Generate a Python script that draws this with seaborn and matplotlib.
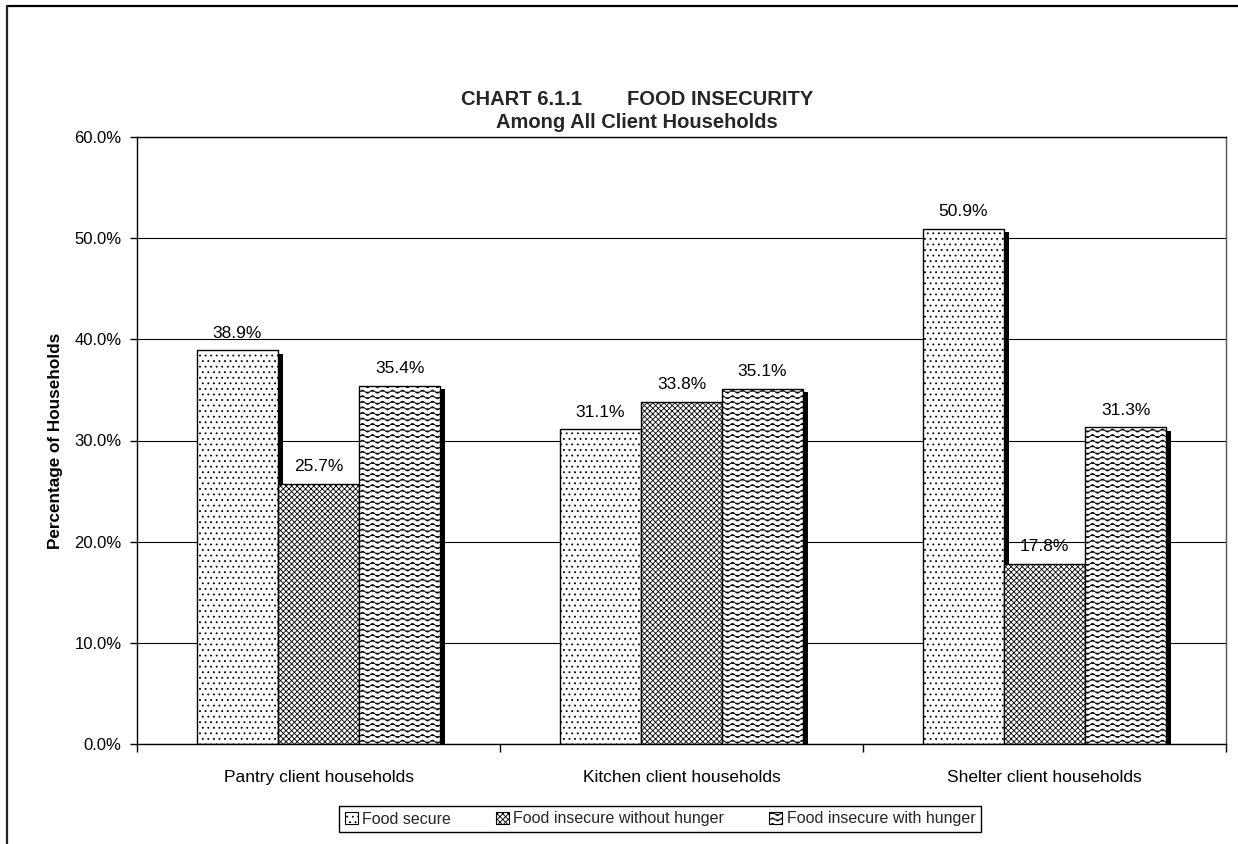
import warnings
import numpy as np
import pandas as pd
import matplotlib
matplotlib.use("Agg")
import matplotlib.pyplot as plt
import matplotlib.patches as mpatches
import matplotlib.patheffects as pe
from matplotlib import hatch as mhatch
from matplotlib.lines import Line2D
from matplotlib.path import Path
import seaborn as sns

warnings.filterwarnings("ignore", message=".*hatch must consist.*")

# ---- data -------------------------------------------------------------
groups = ["Pantry client households", "Kitchen client households",
          "Shelter client households"]
statuses = ["Food secure", "Food insecure without hunger",
            "Food insecure with hunger"]
food_secure = [38.9, 31.1, 50.9]
insecure_without_hunger = [25.7, 33.8, 17.8]
insecure_with_hunger = [35.4, 35.1, 31.3]
y_ticks = [0, 10, 20, 30, 40, 50, 60]

series = [food_secure, insecure_without_hunger, insecure_with_hunger]
hatches = ["...", "xxxxxx", "~"]


# ---- wavy hatch pattern, selected with '~' ----------------------------
class WaveHatch(mhatch.HatchPatternBase):
    def __init__(self, hatch, density):
        n = hatch.count("~")
        self.num_rows = int(n * density * 3)
        self.periods = 10
        self.samples = 8 * self.periods + 1
        self.num_vertices = self.num_rows * self.samples

    def set_vertices_and_codes(self, vertices, codes):
        t = np.linspace(0.0, 1.0, self.samples)
        step = 1.0 / self.num_rows
        amp = 0.28 * step
        for r in range(self.num_rows):
            s = slice(r * self.samples, (r + 1) * self.samples)
            vertices[s, 0] = t
            vertices[s, 1] = (r + 0.5) * step + amp * np.sin(2 * np.pi * self.periods * t)
            codes[s] = Path.LINETO
            codes[r * self.samples] = Path.MOVETO


mhatch._hatch_types.append(WaveHatch)

# ---- style ------------------------------------------------------------
sns.set_theme(style="white")
plt.rcParams["font.family"] = ["Liberation Sans", "DejaVu Sans"]
plt.rcParams["hatch.linewidth"] = 0.6
plt.rcParams["hatch.color"] = "black"

df = pd.DataFrame({
    "group": np.repeat(groups, len(statuses)),
    "status": statuses * len(groups),
    "pct": np.array(series).T.ravel(),
})

fig = plt.figure(figsize=(12.38, 8.44), dpi=100)
ax = fig.add_axes([137 / 1238, 1 - 744 / 844, (1226 - 137) / 1238, (744 - 137) / 844])

sns.barplot(data=df, x="group", y="pct", hue="status", order=groups,
            hue_order=statuses, palette=["white"] * 3, saturation=1,
            edgecolor="black", linewidth=1, width=0.67, errorbar=None,
            legend=False, ax=ax)

shadow = [pe.SimplePatchShadow(offset=(3.8, -2.3), shadow_rgbFace="black", alpha=1.0),
          pe.Normal()]
for cont, h, vals in zip(ax.containers, hatches, series):
    for bar in cont:
        bar.set_hatch(h)
        bar.set_edgecolor("black")
        bar.set_path_effects(shadow)
    ax.bar_label(cont, labels=[f"{v:.1f}%" for v in vals], padding=7,
                 fontsize=12.5, color="black")

# ---- axes -------------------------------------------------------------
ax.set_ylim(0, 60)
ax.set_xlim(-0.5, 2.5)
ax.set_yticks(y_ticks)
ax.set_yticklabels([f"{v:.1f}%" for v in y_ticks])
ax.set_xticks(range(len(groups)))
ax.set_xticklabels(groups)
ax.set_xticks(np.arange(-0.5, len(groups)), minor=True)
ax.tick_params(axis="x", which="major", length=0, pad=19, labelsize=12.5,
               colors="black")
ax.tick_params(axis="x", which="minor", length=6, width=1, color="black",
               direction="out", bottom=True)
ax.tick_params(axis="y", length=5, width=1, color="black", direction="out",
               left=True, pad=6, labelsize=12, labelcolor="black")
ax.set_xlabel("")
ax.set_ylabel("Percentage of Households", fontsize=12.3, fontweight="bold",
              color="black", labelpad=8)
ax.yaxis.grid(True, color="black", linewidth=0.8)
ax.set_axisbelow(True)
for sp in ax.spines.values():
    sp.set_visible(True)
    sp.set_color("black")
    sp.set_linewidth(1)
ax.spines["right"].set_color("#555555")

# ---- title ------------------------------------------------------------
fig.text(637 / 1238, 1 - 111 / 844,
         "CHART 6.1.1        FOOD INSECURITY\nAmong All Client Households",
         ha="center", va="center", fontsize=14.5, fontweight="bold",
         linespacing=1.3, multialignment="center")

# ---- legend -----------------------------------------------------------
handles = [mpatches.Patch(facecolor="white", edgecolor="black", hatch=h,
                          linewidth=0.8, label=s)
           for h, s in zip(hatches, statuses)]
leg = fig.legend(handles=handles, loc="center", ncol=3,
                 bbox_to_anchor=(660 / 1238, 1 - 819 / 844),
                 fontsize=11.5, frameon=True, fancybox=False, framealpha=1,
                 edgecolor="black", handlelength=0.8, handleheight=0.8,
                 handletextpad=0.3, columnspacing=2.8, borderpad=0.35)
leg.get_frame().set_linewidth(1)

# ---- outer frame (top and left edges) ---------------------------------
fx, fy = 7 / 1238, 1 - 6 / 844
fig.add_artist(Line2D([fx, 1], [fy, fy], transform=fig.transFigure,
                      color="black", linewidth=1.6))
fig.add_artist(Line2D([fx, fx], [fy, 0], transform=fig.transFigure,
                      color="#222222", linewidth=1.6))

fig.savefig("out.png", dpi=100)
